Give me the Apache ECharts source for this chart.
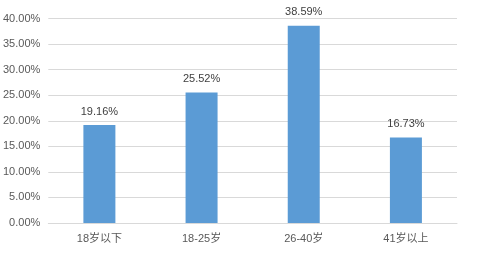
<!DOCTYPE html>
<html><head><meta charset="utf-8">
<script src="https://cdn.jsdelivr.net/npm/echarts@6/dist/echarts.min.js"></script>
<style>html,body{margin:0;padding:0;background:#fff}#c{width:490px;height:255px}</style>
</head><body><div id="c"></div>
<script>
var categories = ['18岁以下', '18-25岁', '26-40岁', '41岁以上'];
var values = [19.16, 25.52, 38.59, 16.73];
var yTicks = [0, 5, 10, 15, 20, 25, 30, 35, 40];

var chart = echarts.init(document.getElementById('c'));
var font = '"Liberation Sans", "Noto Sans CJK SC", sans-serif';
chart.setOption({
  animation: false,
  grid: {left: 46, right: 33, top: 18.5, bottom: 32},
  xAxis: {
    type: 'category', data: categories,
    axisLine: {lineStyle: {color: '#D9D9D9'}},
    axisTick: {show: false},
    axisLabel: {color: '#595959', fontSize: 11, fontFamily: font, margin: 10}
  },
  yAxis: {
    type: 'value', min: yTicks[0], max: yTicks[yTicks.length - 1], interval: 5,
    axisLine: {show: false}, axisTick: {show: false},
    splitLine: {lineStyle: {color: '#D9D9D9'}},
    axisLabel: {color: '#595959', fontSize: 11, fontFamily: font, margin: 8,
      formatter: function (v) { return v.toFixed(2) + '%'; }}
  },
  series: [{
    type: 'bar', data: values, barWidth: 32,
    itemStyle: {color: '#5B9BD5'},
    label: {show: true, position: 'top', distance: 8, color: '#404040', fontSize: 11, fontFamily: font,
      formatter: function (p) { return p.value.toFixed(2) + '%'; }}
  }]
});
</script></body></html>
